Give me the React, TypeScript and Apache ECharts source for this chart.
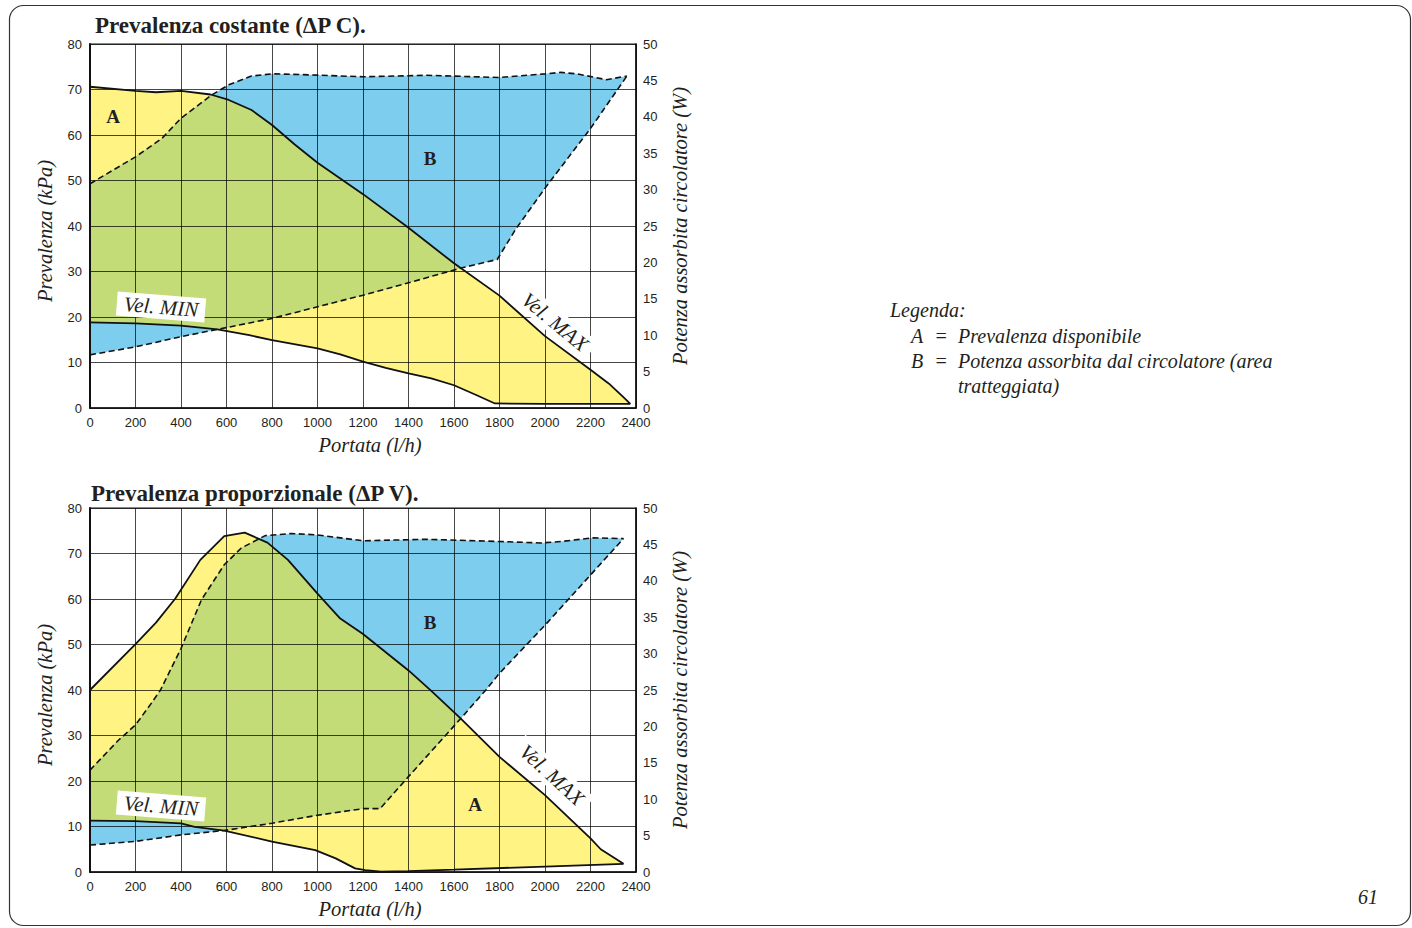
import React, { useEffect, useRef } from "react";
import * as echarts from "echarts";

// ---------- data (flow l/h, head kPa / power W) ----------
const flowTicks = [0, 200, 400, 600, 800, 1000, 1200, 1400, 1600, 1800, 2000, 2200, 2400];

// Chart 1: Prevalenza costante (ΔP C)
const velMaxC: [number, number][] = [
  [0, 70.6], [200, 69.7], [290, 69.4], [400, 69.7], [530, 68.9], [610, 67.7], [710, 65.5],
  [800, 62.2], [900, 57.9], [1000, 53.9], [1200, 47.0], [1400, 39.6], [1600, 31.8],
  [1800, 24.7], [2000, 15.8], [2200, 8.4], [2280, 5.4], [2340, 2.6], [2375, 0.9],
];
const velMinC: [number, number][] = [
  [0, 18.8], [200, 18.6], [400, 18.1], [560, 17.3], [700, 16.0], [800, 14.9], [1000, 13.1],
  [1100, 11.8], [1200, 10.2], [1300, 8.8], [1400, 7.6], [1500, 6.5], [1600, 5.0], [1700, 2.8],
  [1780, 1.0], [2000, 0.9], [2375, 0.9],
];
const powerMaxC: [number, number][] = [
  [0, 30.8], [200, 34.5], [315, 37.0], [400, 39.8], [535, 43.0], [610, 44.4], [710, 45.6],
  [800, 45.9], [930, 45.8], [1200, 45.5], [1480, 45.7], [1800, 45.4], [2000, 45.9],
  [2070, 46.1], [2140, 45.9], [2270, 45.1], [2360, 45.6],
];
const powerMinC: [number, number][] = [
  [0, 7.3], [200, 8.4], [400, 9.8], [560, 10.8], [800, 12.3], [1000, 13.9], [1200, 15.5],
  [1400, 17.2], [1640, 19.3], [1790, 20.4], [1870, 24.5], [2000, 30.2], [2200, 38.4], [2360, 45.6],
];

// Chart 2: Prevalenza proporzionale (ΔP V)
const velMaxV: [number, number][] = [
  [0, 40.0], [200, 50.1], [290, 54.8], [375, 60.1], [485, 68.6], [590, 73.8], [680, 74.6],
  [780, 72.4], [870, 68.6], [1000, 61.2], [1100, 55.7], [1200, 52.3], [1300, 48.3],
  [1400, 44.3], [1500, 39.8], [1630, 33.7], [1800, 25.3], [2000, 16.9], [2200, 7.4],
  [2245, 5.0], [2345, 1.8],
];
const velMinV: [number, number][] = [
  [0, 11.3], [200, 11.2], [400, 10.7], [460, 9.9], [590, 9.1], [800, 6.7], [990, 4.8],
  [1080, 3.0], [1165, 0.8], [1210, 0.4], [1280, 0.1], [1400, 0.2], [1600, 0.5], [2000, 1.2],
  [2345, 1.8],
];
const powerMaxV: [number, number][] = [
  [0, 14.0], [125, 18.1], [200, 20.2], [270, 23.2], [310, 25.0], [400, 30.7], [490, 37.4],
  [590, 42.2], [665, 44.5], [770, 46.2], [885, 46.5], [1000, 46.3], [1200, 45.5], [1480, 45.7],
  [1800, 45.4], [1980, 45.2], [2070, 45.4], [2210, 45.9], [2345, 45.8],
];
const powerMinV: [number, number][] = [
  [0, 3.7], [200, 4.2], [400, 5.1], [590, 5.7], [800, 6.7], [1000, 7.8], [1200, 8.7],
  [1275, 8.7], [1400, 13.1], [1630, 21.1], [1740, 25.0], [1800, 27.3], [2000, 33.9],
  [2200, 40.8], [2345, 45.8],
];

const titles = ["Prevalenza costante (\u0394P C).", "Prevalenza proporzionale (\u0394P V)."];
const legendLines = ["Prevalenza disponibile", "Potenza assorbita dal circolatore (area", "tratteggiata)"];

// ---------- styles ----------
const YELLOW = "#FFF383";
const BLUE = "#7DCDEE";
const GREEN = "#C3DC78";
const INK = "#231f20";
const SERIF = '"Liberation Serif", "DejaVu Serif", serif';
const SANS = '"Liberation Sans", Arial, sans-serif';
const HEAD_MAX = 80;
const POWER_MAX = 50;
const W2K = HEAD_MAX / POWER_MAX;

const GRID_TOPS = [44, 508];
const GRID_LEFT = 90;
const GRID_W = 546;
const GRID_H = 364;

function areaSeries(g: number, maxCurve: [number, number][], minCurve: [number, number][],
  pUp: [number, number][], pLow: [number, number][]) {
  return {
    type: "custom",
    xAxisIndex: g,
    yAxisIndex: g * 2,
    z: -1,
    silent: true,
    clip: true,
    data: [[0, 0]],
    renderItem: (_params: any, api: any) => {
      const c = (p: [number, number]) => api.coord(p);
      const cw = (p: [number, number]) => api.coord([p[0], p[1] * W2K]);
      const yellow = [...maxCurve.map(c), ...[...minCurve].reverse().map(c)];
      const blue = [...pUp.map(cw), ...[...pLow].reverse().map(cw)];
      return {
        type: "group",
        children: [
          { type: "polygon", shape: { points: yellow }, style: { fill: YELLOW } },
          { type: "polygon", shape: { points: blue }, style: { fill: BLUE } },
          {
            type: "polygon",
            shape: { points: yellow },
            style: { fill: GREEN },
            clipPath: { type: "polygon", shape: { points: blue } },
          },
        ],
      };
    },
  };
}

function lineSeries(g: number, right: boolean, data: [number, number][], dashed: boolean) {
  return {
    type: "line",
    xAxisIndex: g,
    yAxisIndex: g * 2 + (right ? 1 : 0),
    data,
    showSymbol: false,
    symbol: "none",
    silent: true,
    z: 3,
    lineStyle: {
      color: "#111",
      width: dashed ? 1.6 : 1.8,
      type: dashed ? [6, 3.5] : "solid",
    },
  };
}

function txt(x: number, y: number, text: string, font: string, extra: any = {}) {
  return {
    type: "text",
    x,
    y,
    z: 100,
    silent: true,
    ...extra,
    style: {
      text,
      font,
      fill: INK,
      align: extra.align || "center",
      verticalAlign: "middle",
      ...(extra.bg ? { backgroundColor: "#fff", padding: [2, 7, 1, 7] } : {}),
    },
  };
}

export default function App() {
  const ref = useRef<HTMLDivElement>(null);
  useEffect(() => {
    if (!ref.current) return;
    const chart = echarts.init(ref.current, undefined, { renderer: "svg" });

    const grids = GRID_TOPS.map((top) => ({
      left: GRID_LEFT, top, width: GRID_W, height: GRID_H,
      show: true, borderColor: "#111", borderWidth: 1.2, backgroundColor: "transparent",
      containLabel: false,
    }));

    const axisLabel = { fontFamily: SANS, fontSize: 13, color: INK, formatter: (v: number) => String(v) };
    const nameStyle = { fontFamily: SERIF, fontStyle: "italic", fontSize: 20.5, color: INK };

    const xAxes = [0, 1].map((g) => ({
      type: "value", gridIndex: g, min: flowTicks[0], max: flowTicks[flowTicks.length - 1],
      interval: flowTicks[1] - flowTicks[0],
      name: "Portata (l/h)", nameLocation: "middle", nameGap: 27,
      nameTextStyle: { ...nameStyle, padding: [0, 0, 0, 14] },
      axisLine: { show: true, lineStyle: { color: "#111", width: 1.5 } },
      axisTick: { show: false },
      axisLabel: { ...axisLabel, margin: 8 },
      splitLine: { show: true, lineStyle: { color: "rgba(0,0,0,0.72)", width: 1 } },
    }));

    const yAxes: any[] = [];
    [0, 1].forEach((g) => {
      yAxes.push({
        type: "value", gridIndex: g, position: "left", min: 0, max: HEAD_MAX, interval: 10,
        name: "Prevalenza (kPa)", nameLocation: "middle", nameGap: 35, nameRotate: 90,
        nameTextStyle: { ...nameStyle, padding: [0, 10, 0, 0] },
        axisLine: { show: true, lineStyle: { color: "#111", width: 2 } },
        axisTick: { show: false },
        axisLabel: { ...axisLabel, margin: 8 },
        splitLine: { show: true, lineStyle: { color: "rgba(0,0,0,0.72)", width: 1 } },
      });
      yAxes.push({
        type: "value", gridIndex: g, position: "right", min: 0, max: POWER_MAX, interval: 5,
        name: "Potenza assorbita circolatore (W)", nameLocation: "middle", nameGap: 34,
        nameRotate: 90, nameTextStyle: nameStyle,
        axisLine: { show: true, lineStyle: { color: "#111", width: 1.5 } },
        axisTick: { show: false },
        axisLabel: { ...axisLabel, margin: 7 },
        splitLine: { show: false },
      });
    });

    const series = [
      areaSeries(0, velMaxC, velMinC, powerMaxC, powerMinC),
      lineSeries(0, false, velMaxC, false),
      lineSeries(0, false, velMinC, false),
      lineSeries(0, true, powerMaxC, true),
      lineSeries(0, true, powerMinC, true),
      areaSeries(1, velMaxV, velMinV, powerMaxV, powerMinV),
      lineSeries(1, false, velMaxV, false),
      lineSeries(1, false, velMinV, false),
      lineSeries(1, true, powerMaxV, true),
      lineSeries(1, true, powerMinV, true),
    ];

    const labelFontB = `bold 19px ${SERIF}`;
    const velFont = `italic 21px ${SERIF}`;
    const legFont = `italic 20px ${SERIF}`;
    const titleFont = `bold 23px ${SERIF}`;

    const graphic = [
      {
        type: "rect", z: 0, silent: true,
        shape: { x: 9.5, y: 5.5, width: 1401, height: 920, r: 14 },
        style: { fill: "none", stroke: "#333", lineWidth: 1.2 },
      },
      txt(95, 25, titles[0], titleFont, { align: "left" }),
      txt(91, 493, titles[1], titleFont, { align: "left" }),
      txt(113, 116, "A", labelFontB),
      txt(430, 158, "B", labelFontB),
      txt(430, 622, "B", labelFontB),
      txt(475, 804, "A", labelFontB),
      txt(161, 307, "Vel. MIN", velFont, { rotation: -0.08, bg: true }),
      txt(161, 806, "Vel. MIN", velFont, { rotation: -0.08, bg: true }),
      txt(555, 322, "Vel. MAX", velFont, { rotation: -0.69, bg: true }),
      txt(552, 775, "Vel. MAX", velFont, { rotation: -0.74, bg: true }),
      txt(890, 310, "Legenda:", legFont, { align: "left" }),
      txt(911, 336, "A", legFont, { align: "left" }),
      txt(941, 336, "=", legFont),
      txt(958, 336, legendLines[0], legFont, { align: "left" }),
      txt(911, 361, "B", legFont, { align: "left" }),
      txt(941, 361, "=", legFont),
      txt(958, 361, legendLines[1], legFont, { align: "left" }),
      txt(958, 386, legendLines[2], legFont, { align: "left" }),
      txt(1368, 897, "61", legFont),
    ];

    chart.setOption({
      animation: false,
      backgroundColor: "#fff",
      grid: grids,
      xAxis: xAxes,
      yAxis: yAxes,
      series,
      graphic,
    });
    return () => chart.dispose();
  }, []);

  return (
    <div
      ref={ref}
      style={{ position: "absolute", left: 0, top: 0, width: 1412, height: 928, background: "#fff" }}
    />
  );
}
